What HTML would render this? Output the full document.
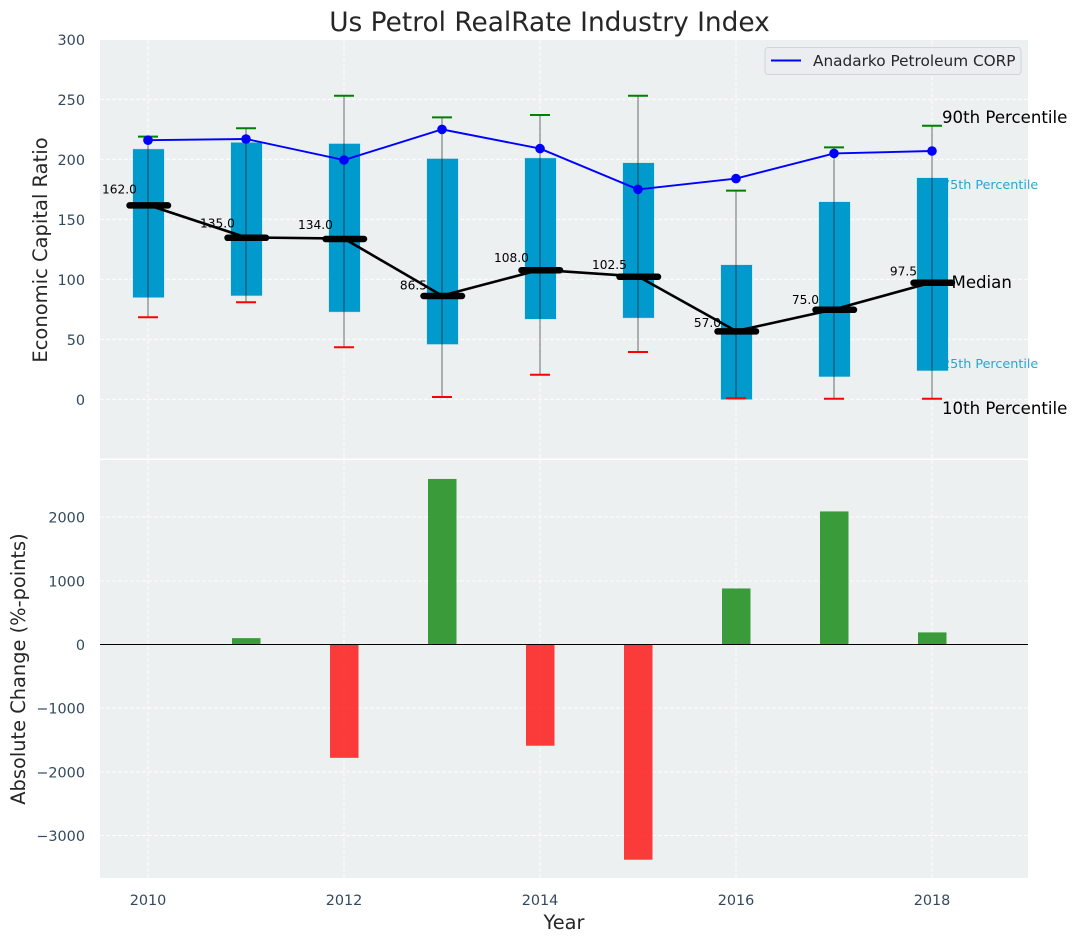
<!DOCTYPE html>
<html lang="en">
<head>
<meta charset="utf-8">
<title>Us Petrol RealRate Industry Index</title>
<style>
html,body{margin:0;padding:0;background:#fff;}
svg{display:block;font-family:"DejaVu Sans","Liberation Sans",sans-serif;}
</style>
</head>
<body>
<svg id="chart" xmlns="http://www.w3.org/2000/svg" width="1077" height="942" viewBox="0 0 1077 942">
  <rect x="0" y="0" width="1077" height="942" fill="#ffffff"/>
  <text x="549.5" y="31" text-anchor="middle" font-size="26.4" fill="#262626">Us Petrol RealRate Industry Index</text>
  <rect x="100" y="40" width="928" height="418.5" fill="#ecf0f1"/>
  <rect x="100" y="460" width="928" height="418" fill="#ecf0f1"/>
  <g id="grid"></g>
  <g id="ticks"></g>
  <text x="942" y="189" font-size="12.75" fill="#009acd" fill-opacity="0.85">75th Percentile</text>
  <text x="942" y="368" font-size="12.75" fill="#009acd" fill-opacity="0.85">25th Percentile</text>
  <g id="boxes"></g>
  <g id="whiskers"></g>
  <g id="medians"></g>
  <g id="company"></g>
  <g id="median-labels"></g>
  <g id="bars"></g>
  <line x1="100" x2="1028" y1="644.5" y2="644.5" stroke="#000000" stroke-width="1.1"/>
  <text x="942" y="123" font-size="16.6" fill="#000000">90th Percentile</text>
  <text x="951.5" y="288" font-size="16.6" fill="#000000">Median</text>
  <text x="942" y="414" font-size="16.6" fill="#000000">10th Percentile</text>
  <text transform="translate(47,250) rotate(-90)" text-anchor="middle" font-size="19.5" fill="#262626">Economic Capital Ratio</text>
  <text transform="translate(25,669) rotate(-90)" text-anchor="middle" font-size="19.4" fill="#262626">Absolute Change (%-points)</text>
  <text x="564" y="929" text-anchor="middle" font-size="19.4" fill="#262626">Year</text>
  <g>
    <rect x="765" y="47.5" width="256" height="27" rx="3" fill="#ebedf1" stroke="#d2d4d6" stroke-width="1"/>
    <line x1="771" x2="801" y1="60.5" y2="60.5" stroke="#0000ff" stroke-width="2"/>
    <text x="813" y="66" font-size="15.3" fill="#262626">Anadarko Petroleum CORP</text>
  </g>
</svg>
<script>
var years = [2010, 2011, 2012, 2013, 2014, 2015, 2016, 2017, 2018];
var p90 = [219, 226, 253, 235, 237, 253, 174, 210, 228];
var p75 = [208.5, 214, 213, 200.5, 201, 197, 112, 164.5, 184.5];
var medianValues = [162, 135, 134, 86.5, 108, 102.5, 57, 75, 97.5];
var p25 = [85, 86.5, 73, 46, 67, 68, 0, 19, 24];
var p10 = [68.5, 81, 43.5, 2, 20.5, 39.5, 1, 0.5, 0.5];
var companyValues = [216, 217, 199.5, 225, 209, 175, 184, 205, 207];
var changeValues = [0, 100, -1780, 2600, -1590, -3380, 880, 2090, 190];
var xTickLabels = [2010, 2012, 2014, 2016, 2018];
var yTopTickLabels = [0, 50, 100, 150, 200, 250, 300];
var yBottomTickLabels = [-3000, -2000, -1000, 0, 1000, 2000];

var NS = 'http://www.w3.org/2000/svg';
function xAt(year) { return 148 + (year - 2010) * 98; }
function yTop(v) { return 399.4 - v * 1.2; }
function yBottom(v) { return 644.5 - v * 0.06367; }
function make(parentId, tag, attrs) {
  var el = document.createElementNS(NS, tag);
  for (var k in attrs) { el.setAttribute(k, attrs[k]); }
  document.getElementById(parentId).appendChild(el);
  return el;
}
function setText(el, t) { el.textContent = String(t).replace('-', '\u2212'); }

xTickLabels.forEach(function (year) {
  var g1 = make('grid', 'line', { x1: xAt(year), x2: xAt(year), y1: 40, y2: 458.5, stroke: '#ffffff', 'stroke-width': 1, 'stroke-dasharray': '4 2', 'stroke-opacity': 0.85 });
  
  
  var g2 = make('grid', 'line', { x1: xAt(year), x2: xAt(year), y1: 460, y2: 878, stroke: '#ffffff', 'stroke-width': 1, 'stroke-dasharray': '4 2', 'stroke-opacity': 0.85 });
  
  
  var t = make('ticks', 'text', { x: xAt(year), y: 905, 'text-anchor': 'middle', 'font-size': 14.4, fill: '#34495e' });
  
  
  setText(t, year);
});

yTopTickLabels.forEach(function (v) {
  var g = make('grid', 'line', { x1: 100, x2: 1028, y1: yTop(v), y2: yTop(v), stroke: '#ffffff', 'stroke-width': 1, 'stroke-dasharray': '4 2', 'stroke-opacity': 0.85 });
  
  
  var t = make('ticks', 'text', { x: 85, y: yTop(v) + 5.5, 'text-anchor': 'end', 'font-size': 14.4, fill: '#34495e' });
  
  
  setText(t, v);
});

yBottomTickLabels.forEach(function (v) {
  var g = make('grid', 'line', { x1: 100, x2: 1028, y1: yBottom(v), y2: yBottom(v), stroke: '#ffffff', 'stroke-width': 1, 'stroke-dasharray': '4 2', 'stroke-opacity': 0.85 });
  
  
  var t = make('ticks', 'text', { x: 85, y: yBottom(v) + 5.5, 'text-anchor': 'end', 'font-size': 14.4, fill: '#34495e' });
  
  
  setText(t, v);
});

years.forEach(function (year, i) {
  var cx = xAt(year);

  var box = make('boxes', 'rect', { x: cx - 15, width: 31, y: yTop(p75[i]), height: yTop(p25[i]) - yTop(p75[i]), fill: '#009acd', stroke: '#009acd', 'stroke-opacity': 0.2, 'stroke-width': 1 });
  
  

  var whisker = make('whiskers', 'line', { x1: cx, x2: cx, y1: yTop(p10[i]), y2: yTop(p90[i]), stroke: '#000000', 'stroke-opacity': 0.5, 'stroke-width': 1.1 });
  
  

  var capHigh = make('whiskers', 'line', { x1: cx - 10, x2: cx + 10, y1: yTop(p90[i]), y2: yTop(p90[i]), stroke: '#008000', 'stroke-width': 2 });
  
  

  var capLow = make('whiskers', 'line', { x1: cx - 10, x2: cx + 10, y1: yTop(p10[i]), y2: yTop(p10[i]), stroke: '#ff0000', 'stroke-width': 2 });
  
  

  var label = make('median-labels', 'text', { x: cx - 28.5, y: yTop(medianValues[i] * 1.06), 'text-anchor': 'middle', 'font-size': 12.2, fill: '#000000' });
  
  
  label.textContent = medianValues[i].toFixed(1);

  if (changeValues[i] !== 0) {
    var bar = make('bars', 'rect', { x: cx - 14, width: 28.5, y: Math.min(yBottom(0), yBottom(changeValues[i])), height: Math.abs(yBottom(changeValues[i]) - yBottom(0)), fill: changeValues[i] > 0 ? '#008000' : '#ff0000', 'fill-opacity': 0.76 });
    
    
  }
});

var medianPath = make('medians', 'polyline', {
  points: years.map(function (year, i) { return xAt(year) + ',' + yTop(medianValues[i]); }).join(' '),
  fill: 'none', stroke: '#000000', 'stroke-width': 2.6
});



years.forEach(function (year, i) {
  var seg = make('medians', 'line', { x1: xAt(year) - 18.5, x2: xAt(year) + 20, y1: yTop(medianValues[i]) + 0.4, y2: yTop(medianValues[i]) + 0.4, stroke: '#000000', 'stroke-width': 6.5, 'stroke-linecap': 'round' });
  
  
});

var companyPath = make('company', 'polyline', {
  points: years.map(function (year, i) { return xAt(year) + ',' + yTop(companyValues[i]); }).join(' '),
  fill: 'none', stroke: '#0000ff', 'stroke-width': 1.9
});



years.forEach(function (year, i) {
  var dot = make('company', 'circle', { cx: xAt(year), cy: yTop(companyValues[i]), r: 4.8, fill: '#0000ff' });
  
  
});
</script>
</body>
</html>
